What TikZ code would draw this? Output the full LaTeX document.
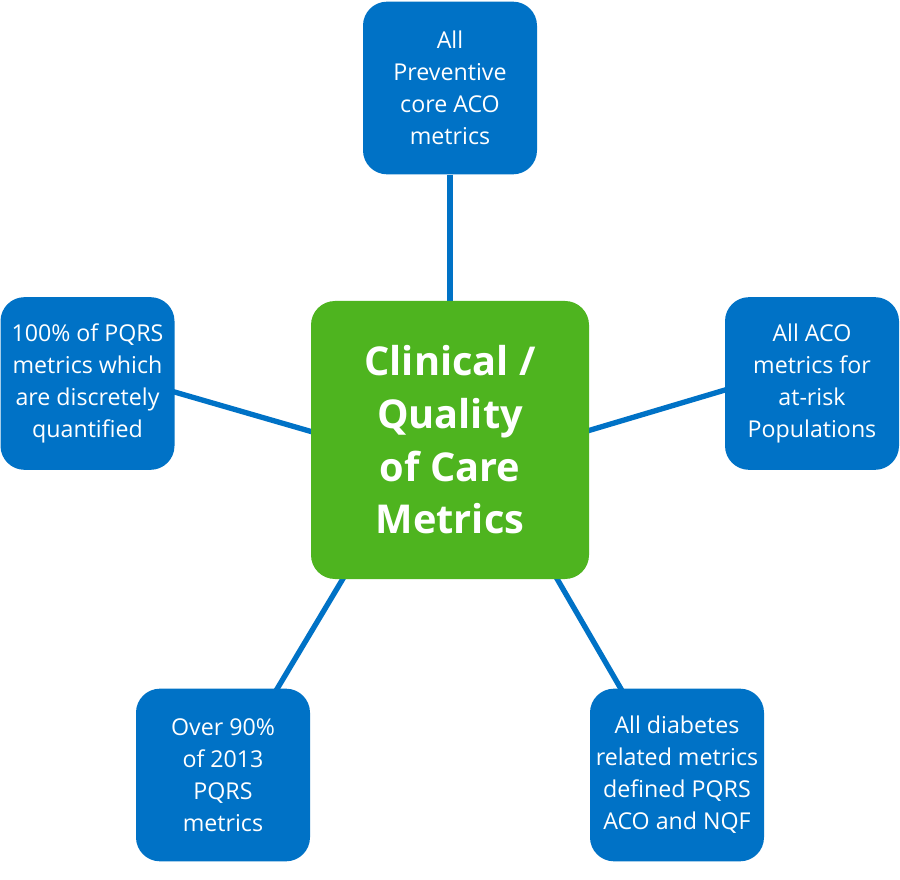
\documentclass[tikz,border=0pt]{standalone}
\usepackage{fontspec}
\setmainfont{Open Sans}
\usetikzlibrary{calc}
\definecolor{boxblue}{RGB}{0,114,198}
\definecolor{boxgreen}{RGB}{78,180,31}
\pgfdeclarelayer{bg}
\pgfsetlayers{bg,main}
\begin{document}
\begin{tikzpicture}[x=0.75pt,y=-0.75pt,
  bluebox/.style={fill=boxblue,rounded corners=18pt,minimum width=130.5pt,minimum height=129.5pt,
    text=white,align=center,inner sep=0pt,font=\fontsize{17.4pt}{24pt}\selectfont},
  greenbox/.style={fill=boxgreen,rounded corners=18pt,minimum width=208.5pt,minimum height=208.5pt,
    text=white,align=center,inner sep=0pt,font=\bfseries\fontsize{29.8pt}{39.5pt}\selectfont},
  link/.style={draw=boxblue,line width=4pt}]
\useasboundingbox (0,0) rectangle (900,880);
\node[greenbox] (cen) at (450,440) {Clinical /\\Quality\\of Care\\Metrics};
\node[bluebox] (top) at (450,88) {All\\Preventive\\core ACO\\metrics};
\node[bluebox] (lft) at (87.5,383.5) {100\% of PQRS\\metrics which\\are discretely\\quantified};
\node[bluebox] (rgt) at (812,383.5) {All ACO\\metrics for\\at-risk\\Populations};
\node[bluebox] (bl) at (223,775) {Over 90\%\\of 2013\\PQRS\\metrics};
\node[bluebox] (br) at (677,775) {All diabetes\\related metrics\\defined PQRS\\ACO and NQF};
\begin{pgfonlayer}{bg}
\fill[white] (0,0) rectangle (900,880);
\draw[link] (top.south) -- (cen.north);
\draw[link] ($(lft.east)+(-2,8)$) -- ($(cen.west)+(2,-8)$);
\draw[link] ($(rgt.west)+(2,6)$) -- ($(cen.east)+(-2,-9)$);
\draw[link] ($(cen.south)+(-105,-4)$) -- ($(bl.north)+(52,4)$);
\draw[link] ($(cen.south)+(105,-4)$) -- ($(br.north)+(-54,4)$);
\end{pgfonlayer}
\end{tikzpicture}
\end{document}
